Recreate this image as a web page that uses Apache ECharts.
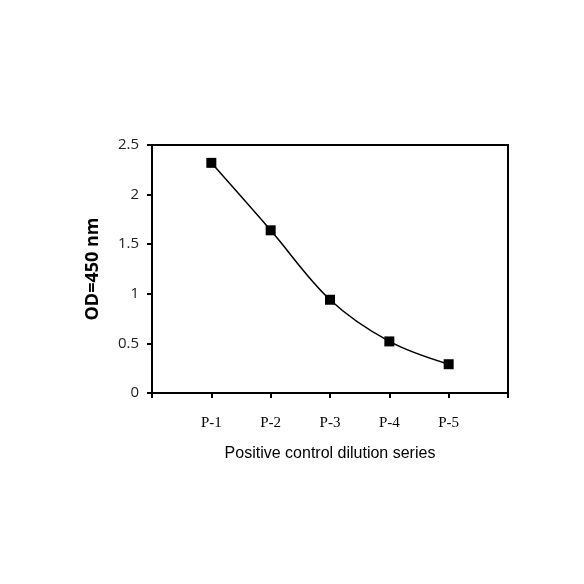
<!DOCTYPE html>
<html>
<head>
<meta charset="utf-8">
<script src="https://cdn.jsdelivr.net/npm/echarts@6/dist/echarts.min.js"></script>
<style>
  html, body { margin: 0; padding: 0; background: #fff; }
  #container { width: 584px; height: 584px; }
</style>
</head>
<body>
<div id="container"></div>
<script>
// data
const categories = ['P-1', 'P-2', 'P-3', 'P-4', 'P-5'];
const odValues = [2.32, 1.64, 0.94, 0.52, 0.29];
const yTicks = [0, 0.5, 1, 1.5, 2, 2.5];

const points = [];
categories.forEach((c, i) => {
  points.push([i + 1, odValues[i]]);
});

var dom = document.getElementById('container');
var myChart = echarts.init(dom, null, { renderer: 'canvas' });
var option = {
  animation: false,
  backgroundColor: '#fff',
  grid: {
    left: 152,
    right: 76,
    top: 145,
    bottom: 191,
    show: true,
    borderColor: '#000',
    borderWidth: 2,
    backgroundColor: 'transparent'
  },
  xAxis: {
    type: 'value',
    min: 0,
    max: categories.length + 1,
    interval: 1,
    splitLine: { show: false },
    axisLine: { lineStyle: { color: '#000', width: 2 } },
    axisTick: { show: true, inside: false, length: 5, lineStyle: { color: '#000', width: 2 } },
    axisLabel: {
      margin: 23,
      fontFamily: 'Liberation Serif',
      fontSize: 15,
      color: '#000',
      showMinLabel: true,
      showMaxLabel: true,
      formatter: function (v) {
        return categories[v - 1] || '';
      }
    },
    name: 'Positive control dilution series',
    nameLocation: 'middle',
    nameGap: 53,
    nameTextStyle: { fontFamily: 'Liberation Sans', fontSize: 16, color: '#000' }
  },
  yAxis: {
    type: 'value',
    min: yTicks[0],
    max: yTicks[yTicks.length - 1],
    interval: 0.5,
    splitLine: { show: false },
    axisLine: { show: true, lineStyle: { color: '#000', width: 2 } },
    axisTick: { show: true, inside: false, length: 5, lineStyle: { color: '#000', width: 2 } },
    axisLabel: {
      margin: 13,
      fontFamily: 'Open Sans',
      fontSize: 15,
      color: '#222'
    },
    name: 'OD=450 nm',
    nameLocation: 'middle',
    nameRotate: 90,
    nameGap: 50,
    nameTextStyle: { fontFamily: 'Open Sans', fontWeight: 'bold', fontSize: 18, color: '#000' }
  },
  series: [
    {
      type: 'line',
      data: points,
      smooth: 0.35,
      symbol: 'rect',
      symbolSize: 10,
      itemStyle: { color: '#000' },
      lineStyle: { color: '#000', width: 1.5 }
    }
  ]
};
myChart.setOption(option);
</script>
</body>
</html>
